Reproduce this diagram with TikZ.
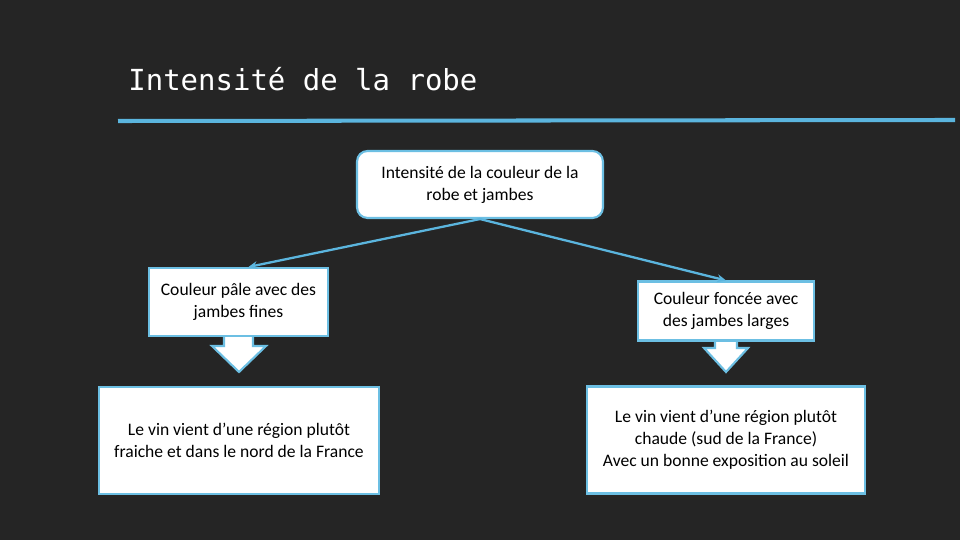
\documentclass[tikz,border=0pt]{standalone}
\usepackage{fontspec}
\setmainfont{Carlito}
\newfontfamily\titlefont{DejaVu Sans Mono}
\usetikzlibrary{arrows.meta,calc}
\definecolor{board}{HTML}{252525}
\definecolor{chalkblue}{HTML}{5BB5DE}
\definecolor{boxblue}{HTML}{6CBFE3}
\tikzset{
  box/.style={draw=boxblue, line width=1.2pt, fill=white, inner sep=2pt,
    align=center, font=\fontsize{10}{12.5}\selectfont, text=black},
  topbox/.style={box, rounded corners=6pt},
  conn/.style={draw=chalkblue, line width=1.3pt, -{Stealth[length=5pt,width=4.5pt]}},
  blockarrow/.style={draw=boxblue, line width=1.2pt, fill=white, line join=miter},
}
\begin{document}
\begin{tikzpicture}[x=0.02cm,y=-0.02cm]
  \fill[board] (0,0) rectangle (960,540);
  \useasboundingbox (0,0) rectangle (960,540);

  \node[anchor=base west, inner sep=0pt, text=white, font=\titlefont\fontsize{16.5}{18}\selectfont] (title) at (128,91) {Intensité de la robe};
  \draw[chalkblue, line width=2.3pt] (118,121) -- (955,120);

  % block arrows
  \fill[white] (225,334) rectangle (251,348);
  \draw[blockarrow] (224,336) -- (224,346) -- (212,346) -- (239,372) -- (266,346) -- (253,346) -- (253,336);
  \draw[blockarrow] (715,340) -- (715,348) -- (704,348) -- (726,372) -- (748,348) -- (737,348) -- (737,340);

  \node[topbox, minimum width=4.92cm, minimum height=1.34cm] (top) at (480,184.5) {Intensité de la couleur de la\\robe et jambes};
  \node[box, minimum width=3.58cm, minimum height=1.36cm] (L1) at (238.5,302) {Couleur pâle avec des\\jambes fines};
  \node[box, minimum width=5.6cm, minimum height=2.14cm] (L2) at (239,440.5) {Le vin vient d’une région plutôt\\fraiche et dans le nord de la France};
  \node[box, minimum width=3.52cm, minimum height=1.18cm] (R1) at (726,311) {Couleur foncée avec\\des jambes larges};
  \node[box, minimum width=5.56cm, minimum height=2.14cm] (R2) at (726,440) {Le vin vient d’une région plutôt\\chaude (sud de la France)\\Avec un bonne exposition au soleil};

  \draw[conn] (top.south) -- ($(L1.north)+(10,0)$);
  \draw[conn] (top.south) -- (R1.north);
\end{tikzpicture}
\end{document}
